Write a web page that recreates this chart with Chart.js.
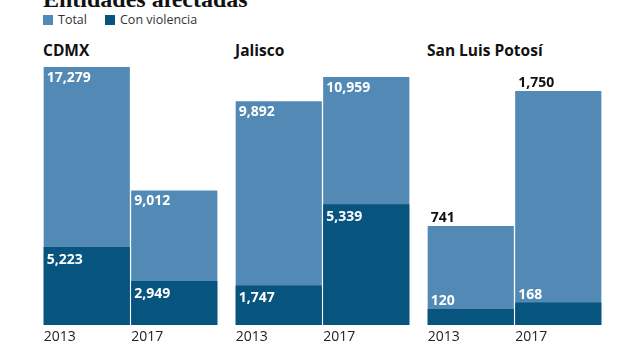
<!DOCTYPE html>
<html lang="es">
<head>
<meta charset="utf-8">
<script src="https://cdn.jsdelivr.net/npm/chart.js@4"></script>
<style>
  html, body { margin: 0; padding: 0; background: #fff; }
  body { width: 622px; height: 350px; position: relative; overflow: hidden; font-family: "Open Sans", sans-serif; color: #222; }
  .title { position: absolute; left: 43px; top: -13px; font: bold 24px/24px "Liberation Serif", serif; color: #111; white-space: nowrap; }
  .legend { position: absolute; top: 12px; font-size: 12.5px; line-height: 16px; color: #333; white-space: nowrap; }
  .legend i { display: inline-block; width: 10px; height: 10px; margin-right: 5px; vertical-align: -1px; }
  .panel-title { position: absolute; top: 40px; font: bold 15.5px/20px "Open Sans", sans-serif; color: #111; white-space: nowrap; }
  canvas { position: absolute; top: 60px; }
</style>
</head>
<body>
<div class="title">Entidades afectadas</div>
<div class="legend" style="left:43px"><i style="background:#528ab5"></i>Total</div>
<div class="legend" style="left:105px"><i style="background:#07547f"></i>Con violencia</div>
<div id="t0" class="panel-title" style="left:43px"></div>
<div id="t1" class="panel-title" style="left:235px"></div>
<div id="t2" class="panel-title" style="left:427px"></div>
<canvas id="c0" width="175" height="290" style="left:43px"></canvas>
<canvas id="c1" width="175" height="290" style="left:235px"></canvas>
<canvas id="c2" width="175" height="290" style="left:427px"></canvas>
<script>
// data
const ENTIDADES = ["CDMX", "Jalisco", "San Luis Potosí"];
const YEARS = ["2013", "2017"];
const TOTAL_CDMX = [17279, 9012];
const VIOL_CDMX = [5223, 2949];
const TOTAL_JAL = [9892, 10959];
const VIOL_JAL = [1747, 5339];
const TOTAL_SLP = [741, 1750];
const VIOL_SLP = [120, 168];
// each panel has its own scale
const Y_MAX = [17279, 11400, 1930];

(function () {
  "use strict";

  const LIGHT = "#528ab5";
  const DARK = "#07547f";
  const totals = [TOTAL_CDMX, TOTAL_JAL, TOTAL_SLP];
  const viols = [VIOL_CDMX, VIOL_JAL, VIOL_SLP];
  const labelsAbove = [false, false, true]; // SLP bars are short, numbers sit on top

  const fmt = n => n.toLocaleString("en-US");

  function labelPlugin(above) {
    return {
      id: "barLabels",
      afterDatasetsDraw(chart) {
        const ctx = chart.ctx;
        ctx.save();
        ctx.textAlign = "left";
        ctx.textBaseline = "alphabetic";
        chart.data.datasets.forEach((ds, di) => {
          const meta = chart.getDatasetMeta(di);
          meta.data.forEach((bar, i) => {
            const left = bar.x - bar.width / 2;
            const val = ds.data[i];
            ctx.font = "bold 14px 'Open Sans', sans-serif";
            if (above) {
              ctx.fillStyle = ds.isTotal ? "#111" : "#fff";
              ctx.fillText(fmt(val), left + 3, bar.y - 4);
            } else {
              ctx.fillStyle = "#fff";
              ctx.fillText(fmt(val), left + 3, bar.y + (ds.isTotal ? 15 : 17));
            }
            if (ds.isTotal) {
              ctx.font = "14px 'Open Sans', sans-serif";
              ctx.fillStyle = "#222";
              ctx.fillText(YEARS[i], left, bar.base + 16);
            }
          });
        });
        ctx.restore();
      }
    };
  }

  ENTIDADES.forEach((name, p) => {
    document.getElementById("t" + p).textContent = name;
    new Chart(document.getElementById("c" + p), {
      type: "bar",
      data: {
        labels: YEARS,
        datasets: [
          { data: viols[p], backgroundColor: DARK, order: 0, isTotal: false },
          { data: totals[p], backgroundColor: LIGHT, order: 1, isTotal: true }
        ]
      },
      options: {
        responsive: false,
        animation: false,
        devicePixelRatio: 1,
        layout: { padding: { top: 7, bottom: 25, left: 0, right: 0 } },
        datasets: { bar: { grouped: false, barPercentage: 0.985, categoryPercentage: 1, borderWidth: 0 } },
        plugins: { legend: { display: false }, tooltip: { enabled: false } },
        scales: {
          x: { display: false },
          y: { display: false, min: 0, max: Y_MAX[p] }
        }
      },
      plugins: [labelPlugin(labelsAbove[p])]
    });
  });
})();
</script>
</body>
</html>
